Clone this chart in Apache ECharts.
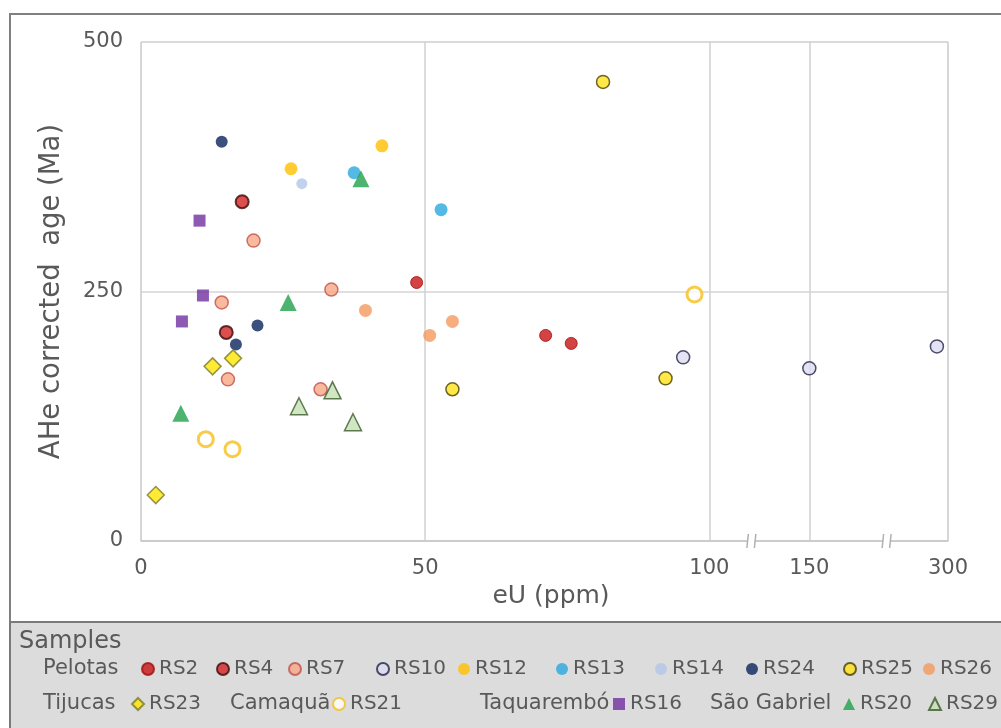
<!DOCTYPE html>
<html>
<head>
<meta charset="utf-8">
<script src="https://cdn.jsdelivr.net/npm/echarts@6/dist/echarts.min.js"></script>
<style>
  html, body { margin: 0; padding: 0; background: #fff; }
  #chart { width: 1001px; height: 728px; }
</style>
</head>
<body>
<div id="chart"></div>
<script>
// ---------- data : [eU (ppm), AHe corrected age (Ma)] ----------
const rs2 = [[48.5, 259], [71.2, 206], [75.7, 198]];
const rs4 = [[17.8, 340], [15.0, 209]];
const rs7 = [[19.8, 301], [14.2, 239], [33.5, 252], [15.3, 162], [31.6, 152]];
const rs10 = [[95.4, 184], [150, 173], [288, 195]];
const rs12 = [[26.4, 373], [42.4, 396]];
const rs13 = [[37.5, 369], [52.8, 332]];
const rs14 = [[28.3, 358]];
const rs24 = [[14.2, 400], [20.5, 216], [16.7, 197]];
const rs25 = [[81.3, 460], [54.8, 152], [92.3, 163]];
const rs26 = [[39.5, 231], [54.8, 220], [50.8, 206]];
const rs23 = [[16.2, 183], [12.6, 175], [2.6, 46]];
const rs21 = [[11.4, 102], [16.1, 92], [97.4, 247]];
const rs16 = [[10.3, 321], [10.9, 246], [7.2, 220]];
const rs20 = [[38.7, 363], [25.9, 239], [7.0, 128]];
const rs29 = [[33.7, 151], [27.8, 135], [37.3, 119]];

// broken x axis: labelled values and where they sit on the drawn axis
const xTickValues = [0, 50, 100, 150, 300];
const xTickPos = [0, 50, 100, 117.6, 142];
const xBreakPos = [107.4, 131.2];
const yTicks = [0, 250, 500];

// ---------- scale for the broken axis ----------
const toAxis = (v) => {
  for (let i = 1; i < xTickValues.length; i++) {
    if (v <= xTickValues[i]) {
      const a = xTickValues[i - 1], b = xTickValues[i];
      return xTickPos[i - 1] + ((v - a) / (b - a)) * (xTickPos[i] - xTickPos[i - 1]);
    }
  }
  return xTickPos[xTickPos.length - 1];
};
const labelFor = (pos) => {
  let best = 0;
  xTickPos.forEach((p, i) => { if (Math.abs(p - pos) < Math.abs(xTickPos[best] - pos)) best = i; });
  return String(xTickValues[best]);
};

// ---------- series styles ----------
const FONT = '"DejaVu Sans", "Noto Sans", sans-serif';
const TXT = '#595959';
const samples = [
  { name: 'RS2', data: rs2, symbol: 'circle', size: 12, style: { color: '#C81414', borderColor: '#A00E0E', borderWidth: 1 } },
  { name: 'RS4', data: rs4, symbol: 'circle', size: 13, style: { color: '#D42222', borderColor: '#3A0A0A', borderWidth: 2 } },
  { name: 'RS7', data: rs7, symbol: 'circle', size: 13, style: { color: '#F7A783', borderColor: '#C0504D', borderWidth: 1.5 } },
  { name: 'RS10', data: rs10, symbol: 'circle', size: 13, style: { color: '#DCDCF0', borderColor: '#22224A', borderWidth: 1.5 } },
  { name: 'RS12', data: rs12, symbol: 'circle', size: 13, style: { color: '#FFC000' } },
  { name: 'RS13', data: rs13, symbol: 'circle', size: 13, style: { color: '#2AA8E0' } },
  { name: 'RS14', data: rs14, symbol: 'circle', size: 11, style: { color: '#B4C7E7' } },
  { name: 'RS24', data: rs24, symbol: 'circle', size: 12, style: { color: '#0B245E' } },
  { name: 'RS25', data: rs25, symbol: 'circle', size: 13, style: { color: '#FFE21A', borderColor: '#4A3F00', borderWidth: 1.5 } },
  { name: 'RS26', data: rs26, symbol: 'circle', size: 13, style: { color: '#F59A5E' } },
  { name: 'RS23', data: rs23, symbol: 'diamond', size: 17, style: { color: '#FFE600', borderColor: '#7A7A2A', borderWidth: 1.5 } },
  { name: 'RS21', data: rs21, symbol: 'circle', size: 15, style: { color: '#FFFFFF', borderColor: '#F6BE1A', borderWidth: 3 } },
  { name: 'RS16', data: rs16, symbol: 'rect', size: 12, style: { color: '#7030A0' } },
  { name: 'RS20', data: rs20, symbol: 'triangle', size: 17, style: { color: '#1FA14A' } },
  { name: 'RS29', data: rs29, symbol: 'triangle', size: 17, style: { color: '#C5E0B4', borderColor: '#3B5A2A', borderWidth: 1.5 } },
];

// legend layout: [left of text, row]
const legendAt = {
  RS2: [158, 0], RS4: [233, 0], RS7: [305, 0], RS10: [393, 0], RS12: [475, 0],
  RS13: [573, 0], RS14: [672, 0], RS24: [763, 0], RS25: [860, 0], RS26: [940, 0],
  RS23: [148, 1], RS21: [349, 1], RS16: [630, 1], RS20: [860, 1], RS29: [945, 1],
};
const rowTop = [659, 694];

const chart = echarts.init(document.getElementById('chart'));

const option = {
  backgroundColor: '#fff',
  animation: false,
  textStyle: { fontFamily: FONT },
  grid: { left: 141, right: 53, top: 42, bottom: 187, show: true, borderColor: '#d4d4d4', borderWidth: 1 },
  xAxis: {
    type: 'value',
    min: 0,
    max: xTickPos[xTickPos.length - 1],
    name: 'eU (ppm)',
    nameLocation: 'middle',
    nameGap: 42,
    nameTextStyle: { fontSize: 25, color: TXT, fontFamily: FONT, padding: [0, 0, 0, 13] },
    axisLine: { lineStyle: { color: '#c8c8c8', width: 1.5 } },
    axisTick: { show: false, customValues: xTickPos },
    axisLabel: { customValues: xTickPos, formatter: labelFor, fontSize: 21, color: TXT, margin: 17, fontFamily: FONT },
    splitLine: { show: true, lineStyle: { color: '#d0d0d0', width: 1.5 } },
  },
  yAxis: {
    type: 'value',
    min: yTicks[0],
    max: yTicks[yTicks.length - 1],
    interval: 250,
    name: 'AHe corrected  age (Ma)',
    nameLocation: 'middle',
    nameGap: 75,
    nameTextStyle: { fontSize: 27.5, color: TXT, fontFamily: FONT },
    axisLine: { show: true, lineStyle: { color: '#d4d4d4' } },
    axisTick: { show: false },
    axisLabel: { fontSize: 21, color: TXT, margin: 18, fontFamily: FONT },
    splitLine: { show: true, lineStyle: { color: '#d4d4d4', width: 1.5 } },
  },
  legend: samples.map((s) => ({
    data: [s.name],
    left: legendAt[s.name][0] - 17,
    top: rowTop[legendAt[s.name][1]],
    padding: 0,
    itemWidth: 12,
    itemHeight: 12,
    selectedMode: false,
    textStyle: { fontSize: 20, color: TXT, fontFamily: FONT },
  })),
  series: samples.map((s) => ({
    type: 'scatter',
    name: s.name,
    symbol: s.symbol,
    symbolSize: s.size,
    itemStyle: s.style,
    data: s.data.map(([eU, age]) => [toAxis(eU), age]),
  })),
  graphic: [
    // outer frame and the grey legend panel
    { type: 'rect', z: -10, silent: true, shape: { x: 10, y: 14, width: 1000, height: 720 },
      style: { fill: '#fff', stroke: '#808080', lineWidth: 2 } },
    { type: 'rect', z: -9, silent: true, shape: { x: 10, y: 622, width: 1000, height: 120 },
      style: { fill: '#DCDCDC', stroke: '#7a7a7a', lineWidth: 2 } },
    { type: 'text', left: 19, top: 630, style: { text: 'Samples', font: `24px ${FONT}`, fill: TXT } },
    { type: 'text', left: 43, top: 658, style: { text: 'Pelotas', font: `21px ${FONT}`, fill: TXT } },
    { type: 'text', left: 43, top: 693, style: { text: 'Tijucas', font: `21px ${FONT}`, fill: TXT } },
    { type: 'text', left: 230, top: 693, style: { text: 'Camaquã', font: `21px ${FONT}`, fill: TXT } },
    { type: 'text', left: 480, top: 693, style: { text: 'Taquarembó', font: `21px ${FONT}`, fill: TXT } },
    { type: 'text', left: 710, top: 693, style: { text: 'São Gabriel', font: `21px ${FONT}`, fill: TXT } },
  ],
};

chart.setOption(option);

// break marks on the x axis
const y0 = chart.convertToPixel({ yAxisIndex: 0 }, 0);
const marks = [];
xBreakPos.forEach((p) => {
  const bx = chart.convertToPixel({ xAxisIndex: 0 }, p);
  marks.push(
    { type: 'rect', z: 100, silent: true, shape: { x: bx - 3.5, y: y0 - 2, width: 7, height: 4 }, style: { fill: '#fff' } },
    { type: 'line', z: 101, silent: true, shape: { x1: bx - 4.5, y1: y0 + 7, x2: bx - 3, y2: y0 - 7 }, style: { stroke: '#b0b0b0', lineWidth: 1.5 } },
    { type: 'line', z: 101, silent: true, shape: { x1: bx + 3, y1: y0 + 7, x2: bx + 4.5, y2: y0 - 7 }, style: { stroke: '#b0b0b0', lineWidth: 1.5 } }
  );
});
chart.setOption({ graphic: option.graphic.concat(marks) });

window.addEventListener('resize', () => chart.resize());
</script>
</body>
</html>
